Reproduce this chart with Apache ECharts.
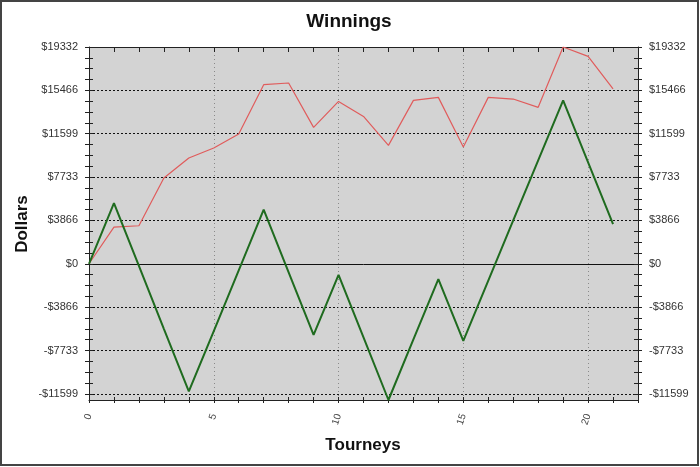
<!DOCTYPE html>
<html><head><meta charset="utf-8">
<script src="https://cdn.jsdelivr.net/npm/echarts@6/dist/echarts.min.js"></script>
<style>html,body{margin:0;padding:0;background:#fff}#c{width:700px;height:467px}</style>
</head><body><div id="c"></div>
<script>
const titleText = 'Winnings';
const xName = 'Tourneys';
const yName = 'Dollars';
const tourneys = [0,1,2,3,4,5,6,7,8,9,10,11,12,13,14,15,16,17,18,19,20,21];
const winnings = [0,3270,3390,7650,9430,10320,11570,15970,16120,12160,14480,13140,10560,14570,14840,10410,14840,14690,13950,19332,18500,15590];
const profit = [0,5415,-190,-5800,-11390,-6000,-590,4818,-760,-6335,-981,-6560,-12150,-6750,-1365,-6870,-1500,3870,9220,14570,9050,3540];
const xLabelValues = [0,5,10,15,20];
const yTickValues = [-11599,-7733,-3866,0,3866,7733,11599,15466,19332];
const yTickLabels = ['-$11599','-$7733','-$3866','$0','$3866','$7733','$11599','$15466','$19332'];
const yMin = -12150, yMax = 19332, xMin = 0, xMax = 22;

const FONT = 'Arial, "Liberation Sans", sans-serif';
const step = (yTickValues[1]-yTickValues[0]) / 4;
const yMinor = [];
for (let v = yTickValues[0]; v <= yMax + 1; v += step) yMinor.push(Math.round(v*10)/10);
const xTicks = [];
for (let v = xMin; v <= xMax; v++) xTicks.push(v);
const xGrid = xLabelValues.filter(v => v > 0);
const yGrid = yTickValues.filter(v => v !== 0);

const labelFmt = v => { let best = 0, d = Infinity; yTickValues.forEach((t,i)=>{ if (Math.abs(t-v)<d){d=Math.abs(t-v);best=i;} }); return yTickLabels[best]; };
const black = '#222';
function yAx(o){ return Object.assign({type:'value', min:yMin, max:yMax, axisLine:{show:false,onZero:false}, axisTick:{show:false}, axisLabel:{show:false}, splitLine:{show:false}}, o); }
function xAx(o){ return Object.assign({type:'value', min:xMin, max:xMax, axisLine:{show:false,onZero:false}, axisTick:{show:false}, axisLabel:{show:false}, splitLine:{show:false}}, o); }

const option = {
  animation: false,
  grid: {left:89, right:62, top:47, bottom:67, show:true, backgroundColor:'#d3d3d3', borderWidth:0},
  xAxis: [
    xAx({position:'bottom', axisLine:{show:true,onZero:false,lineStyle:{color:black}},
      axisTick:{show:true, customValues:xTicks, length:3, inside:false, lineStyle:{color:black}},
      axisLabel:{show:true, customValues:xLabelValues, rotate:72, margin:14, fontSize:10, fontFamily:FONT, color:'#444'}}),
    xAx({position:'bottom', axisTick:{show:true, customValues:xTicks, length:3, inside:true, lineStyle:{color:black}}}),
    xAx({position:'top', axisLine:{show:true,onZero:false,lineStyle:{color:black}},
      axisTick:{show:true, customValues:xTicks, length:5, inside:true, lineStyle:{color:black}}}),
    xAx({position:'bottom', axisTick:{show:false, customValues:xGrid}, splitLine:{show:true, lineStyle:{color:'#8a8a8a', type:[1,3], width:1}}})
  ],
  yAxis: [
    yAx({position:'left', axisLine:{show:true,onZero:false,lineStyle:{color:black}},
      axisTick:{show:true, customValues:yMinor, length:4, inside:false, lineStyle:{color:black}},
      axisLabel:{show:true, customValues:yTickValues, formatter:labelFmt, margin:11, fontSize:11, fontFamily:FONT, color:'#333'}}),
    yAx({position:'left', axisTick:{show:true, customValues:yMinor, length:4, inside:true, lineStyle:{color:black}}}),
    yAx({position:'right', axisLine:{show:true,onZero:false,lineStyle:{color:black}},
      axisTick:{show:true, customValues:yMinor, length:4, inside:false, lineStyle:{color:black}},
      axisLabel:{show:true, customValues:yTickValues, formatter:labelFmt, margin:11, fontSize:11, fontFamily:FONT, color:'#333'}}),
    yAx({position:'right', axisTick:{show:true, customValues:yMinor, length:4, inside:true, lineStyle:{color:black}}}),
    yAx({position:'left', axisTick:{show:false, customValues:yGrid}, splitLine:{show:true, lineStyle:{color:'#111', type:[2,2], width:1}}}),
    yAx({position:'left', axisTick:{show:false, customValues:[0]}, splitLine:{show:true, lineStyle:{color:'#111', width:1}}})
  ],
  series: [
    {name:'Winnings', type:'line', xAxisIndex:0, yAxisIndex:0, symbol:'none', z:3,
      data: tourneys.map((t,i)=>[t, winnings[i]]), lineStyle:{color:'#e05c5c', width:1.2}},
    {name:'Profit', type:'line', xAxisIndex:0, yAxisIndex:0, symbol:'none', z:4,
      data: tourneys.map((t,i)=>[t, profit[i]]), lineStyle:{color:'#1f6b1f', width:2}}
  ],
  graphic: [
    {type:'rect', shape:{x:1, y:1, width:697, height:464}, style:{fill:'none', stroke:'#444', lineWidth:2}, silent:true},
    {type:'text', x:349, y:22, style:{text:titleText, font:'bold 19px '+FONT, fill:'#111', align:'center', verticalAlign:'middle'}},
    {type:'text', x:363, y:445, style:{text:xName, font:'bold 17px '+FONT, fill:'#111', align:'center', verticalAlign:'middle'}},
    {type:'text', x:22, y:224, rotation:Math.PI/2, style:{text:yName, font:'bold 17px '+FONT, fill:'#111', align:'center', verticalAlign:'middle'}}
  ]
};
const chart = echarts.init(document.getElementById('c'), null, {renderer:'canvas'});
chart.setOption(option);
</script></body></html>
